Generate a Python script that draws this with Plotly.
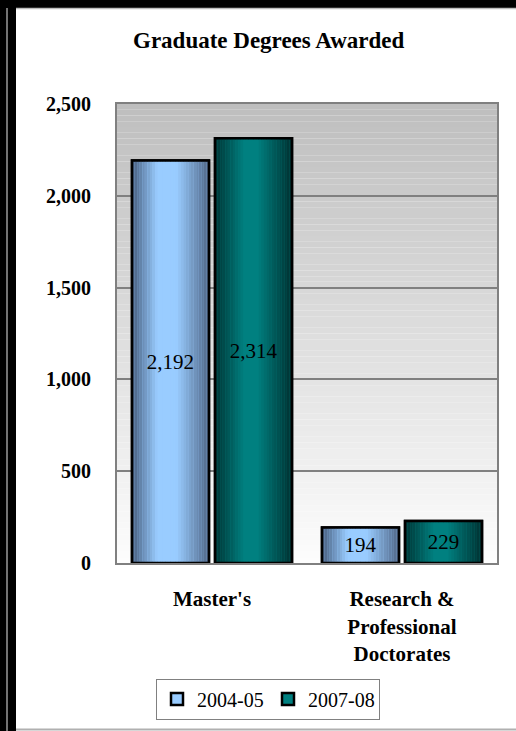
import plotly.graph_objects as go

# ---- data ----
categories = ["Master's", "Research &<br>Professional<br>Doctorates"]
series_names = ["2004-05", "2007-08"]
values_2004 = [2192, 194]
values_2007 = [2314, 229]
y_ticks = [0, 500, 1000, 1500, 2000, 2500]
title_text = "Graduate Degrees Awarded"

W, H = 516, 731
FONT = "Liberation Serif"

def lerp(c1, c2, t):
    return tuple(c1[i] + (c2[i] - c1[i]) * t for i in range(3))

def grad(stops, t):
    for (t0, c0), (t1, c1) in zip(stops, stops[1:]):
        if t0 <= t <= t1:
            return lerp(c0, c1, (t - t0) / (t1 - t0) if t1 > t0 else 0)
    return stops[-1][1]

def rgb(c):
    return "rgb(%d,%d,%d)" % tuple(round(v) for v in c)

blue_stops = [(0, (70, 92, 124)), (0.33, (153, 204, 255)), (0.58, (153, 204, 255)), (1, (80, 102, 134))]
teal_stops = [(0, (0, 52, 52)), (0.38, (0, 128, 128)), (0.55, (0, 128, 128)), (1, (0, 48, 48))]

bar_w = 0.405
offsets = [-0.421, 0.016]
series = [(series_names[0], values_2004, blue_stops, "#99ccff"),
          (series_names[1], values_2007, teal_stops, "#008080")]

fig = go.Figure()
N = 30
for (name, vals, stops, base), off in zip(series, offsets):
    # base trace (legend)
    fig.add_trace(go.Bar(x=categories, y=vals, name=name, offset=off, width=bar_w,
                         marker=dict(color=base, line=dict(color="black", width=2.5)),
                         hoverinfo="skip"))
    sw = bar_w / N
    for k in range(N):
        t = (k + 0.5) / N
        fig.add_trace(go.Bar(x=categories, y=vals, offset=off + k * sw, width=sw * 1.02,
                             marker=dict(color=rgb(grad(stops, t)), line=dict(width=0)),
                             showlegend=False, hoverinfo="skip"))
    fig.add_trace(go.Bar(x=categories, y=vals, offset=off, width=bar_w,
                         marker=dict(color="rgba(0,0,0,0)", line=dict(color="black", width=2.5)),
                         text=[f"{v:,}" for v in vals], textposition="inside",
                         insidetextanchor="middle",
                         insidetextfont=dict(family=FONT, size=21, color="black"),
                         showlegend=False, hovertemplate=name + ": %{y:,}<extra></extra>"))

# background vertical gradient bands
shapes = []
nb = 80
top_c, bot_c = (190, 190, 190), (253, 253, 253)
for i in range(nb):
    y0 = 2500 * i / nb
    y1 = 2500 * (i + 1) / nb
    c = lerp(bot_c, top_c, (i + 0.5) / nb)
    shapes.append(dict(type="rect", xref="x domain", yref="y", x0=0, x1=1, y0=y0, y1=y1,
                       fillcolor=rgb(c), line=dict(width=0), layer="below"))

# frame
def px(x): return x / W
def py(y): return 1 - y / H
shapes += [
    dict(type="rect", xref="paper", yref="paper", x0=0, x1=px(16), y0=0, y1=1,
         fillcolor="black", line=dict(width=0)),
    dict(type="rect", xref="paper", yref="paper", x0=0, x1=1, y0=py(8), y1=1,
         fillcolor="black", line=dict(width=0)),
    dict(type="line", xref="paper", yref="paper", x0=px(7), x1=px(7), y0=0, y1=py(8),
         line=dict(color="#9a9a9a", width=1.5)),
    dict(type="line", xref="paper", yref="paper", x0=px(16), x1=1, y0=py(8.5), y1=py(8.5),
         line=dict(color="#bdbdbd", width=1.5)),
    dict(type="line", xref="paper", yref="paper", x0=px(16), x1=1, y0=py(729.5), y1=py(729.5),
         line=dict(color="#b0b0b0", width=2)),
]

fig.update_layout(
    width=W, height=H,
    margin=dict(l=0, r=0, t=0, b=0, pad=0, autoexpand=False),
    paper_bgcolor="white", plot_bgcolor="white",
    barmode="overlay",
    shapes=shapes,
    font=dict(family=FONT, size=20, color="black"),
    showlegend=True,
    legend=dict(orientation="h", x=px(268), xanchor="center", y=py(699), yanchor="middle",
                bordercolor="#808080", borderwidth=1, bgcolor="white",
                font=dict(family=FONT, size=20, color="black"), itemwidth=30,
                entrywidth=66, tracegroupgap=0),
    annotations=[dict(text=title_text, x=px(268), y=py(40), xref="paper", yref="paper",
                      showarrow=False, xanchor="center", yanchor="middle",
                      font=dict(family=FONT, size=23, color="black", weight="bold"))],
    xaxis=dict(domain=[px(117), px(497)], showgrid=False, showline=True, mirror=True,
               linecolor="#808080", linewidth=2, ticks="", ticklabelstandoff=16,
               automargin=False,
               tickfont=dict(family=FONT, size=21, color="black", weight="bold")),
    yaxis=dict(domain=[py(563), py(104)], range=[0, 2500], tickvals=y_ticks,
               tickformat=",", showgrid=True, gridcolor="#808080", gridwidth=2,
               showline=True, mirror=True, linecolor="#808080", linewidth=2, ticks="",
               zeroline=False, ticklabelstandoff=20, automargin=False,
               tickfont=dict(family=FONT, size=20, color="black", weight="bold")),
)

fig.write_html("out.html")
